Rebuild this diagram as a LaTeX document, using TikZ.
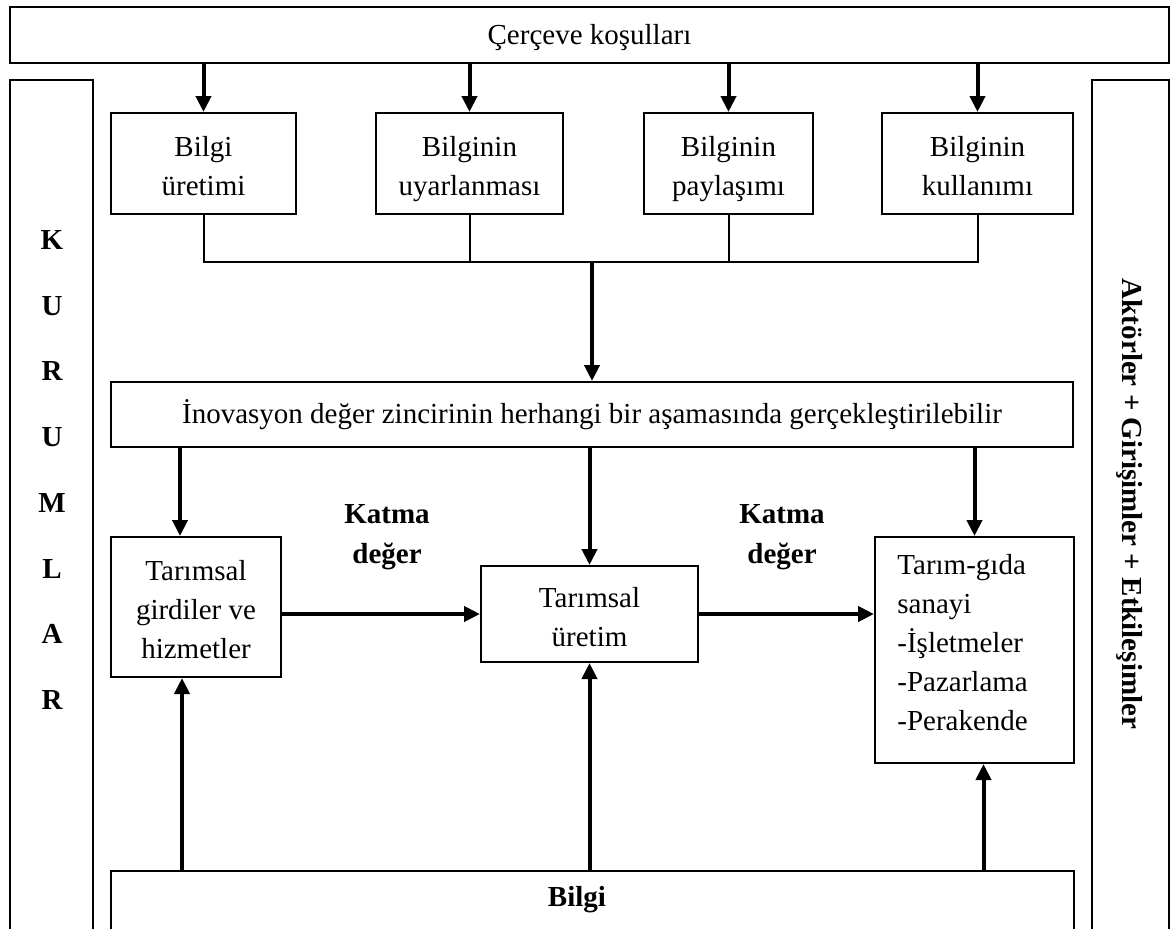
\documentclass[tikz,border=0pt]{standalone}
\usepackage{fontspec}
\setmainfont{Liberation Serif}
\usetikzlibrary{arrows.meta}
% tall strut that opens the first line of a multi-line box
\newcommand{\topstrut}{\rule{0pt}{18.6pt}}
\begin{document}
\begin{tikzpicture}[x=0.5pt,y=-0.5pt,
  box/.style={draw, line width=1pt, inner sep=0pt, align=center,
              font=\fontsize{14.5}{19.5}\selectfont,
              execute at begin node=\rule{0pt}{15pt}, execute at end node=\strut},
  multi/.style={draw, line width=1pt, inner sep=0pt, align=center,
              font=\fontsize{14.5}{19.5}\selectfont, execute at end node=\strut},
  arr/.style={line width=2pt, -{Triangle[width=7.5pt,length=8pt]}},
  thinline/.style={line width=1pt},
  bold/.style={font=\fontsize{14.5}{20}\selectfont\bfseries, inner sep=0pt, align=center},
  plain/.style={font=\fontsize{14.5}{19.5}\selectfont, inner sep=0pt}]
\useasboundingbox (0,0) rectangle (1173,928);
\clip (0,0) rectangle (1173,928);

% frame conditions on top
\node[box, minimum width=579.5pt, minimum height=28pt] (frame) at (589.5,35) {Çerçeve koşulları};

% side columns (open at the bottom)
\node[draw, line width=1pt, minimum width=41.5pt, minimum height=460pt] (kurum) at (51.5,540) {};
\node[draw, line width=1pt, minimum width=38.5pt, minimum height=460pt] (aktor) at (1130.5,540) {};
\foreach \c [count=\i] in {K,U,R,U,M,L,A,R}
  \node[bold] (k\i) at (52,{240+65.7*(\i-1)}) {\c};
\node[bold, rotate=-90] (aktortxt) at (1130,504) {Aktörler + Girişimler + Etkileşimler};

% knowledge stages
\node[multi, minimum width=92.5pt, minimum height=50.5pt] (b1) at (203.5,163.5) {\topstrut Bilgi\\üretimi};
\node[multi, minimum width=93.5pt, minimum height=50.5pt] (b2) at (469.5,163.5) {\topstrut Bilginin\\uyarlanması};
\node[multi, minimum width=84.5pt, minimum height=50.5pt] (b3) at (728.5,163.5) {\topstrut Bilginin\\paylaşımı};
\node[multi, minimum width=95.5pt, minimum height=50.5pt] (b4) at (977.5,163.5) {\topstrut Bilginin\\kullanımı};

\foreach \b in {b1,b2,b3,b4}
  \draw[arr] (frame.south -| \b.north) -- (\b.north);

% innovation bar
\node[box, minimum width=481pt, minimum height=32.5pt] (inov) at (592,414.5)
  {İnovasyon değer zincirinin herhangi bir aşamasında gerçekleştirilebilir};

% bracket joining the stages
\coordinate (join) at (592,262);
\draw[thinline] (b1.south) -- (b1.south |- join) -- (b4.south |- join) -- (b4.south);
\draw[thinline] (b2.south) -- (b2.south |- join);
\draw[thinline] (b3.south) -- (b3.south |- join);
\draw[arr] (join) -- (join |- inov.north);

% value chain
\node[multi, minimum width=85pt, minimum height=70pt] (g) at (196,607)
  {\topstrut Tarımsal\\girdiler ve\\hizmetler};
\node[multi, minimum width=108.5pt, minimum height=48pt] (u) at (589.5,614)
  {\topstrut Tarımsal\\üretim};
\node[draw, line width=1pt, minimum width=99.5pt, minimum height=113pt] (s) at (974.5,650) {};
\node[plain, anchor=north west, align=left] (stxt) at (897,554)
  {Tarım-gıda\\sanayi\\-İşletmeler\\-Pazarlama\\-Perakende};

\path ([xshift=-8pt]g.north) coordinate (gtop);
\path ([xshift=-7pt]g.south) coordinate (gbot);
\path ([xshift=4.5pt]s.south) coordinate (sbot);

\draw[arr] (gtop |- inov.south) -- (gtop);
\draw[arr] (u.north |- inov.south) -- (u.north);
\draw[arr] (s.north |- inov.south) -- (s.north);

\draw[arr] (g.east |- u) -- (u.west);
\draw[arr] (u.east) -- (u.east -| s.west);

\node[bold] (kd1) at (387,537) {Katma\\değer};
\node[bold] (kd2) at (782,537) {Katma\\değer};

% knowledge base (open at the bottom)
\node[draw, line width=1pt, minimum width=481.5pt, minimum height=100pt] (bilgi) at (592.5,971) {};
\node[bold] (bilgitxt) at (577,900) {Bilgi};

\draw[arr] (gbot |- bilgi.north) -- (gbot);
\draw[arr] (u.south |- bilgi.north) -- (u.south);
\draw[arr] (sbot |- bilgi.north) -- (sbot);
\end{tikzpicture}
\end{document}
